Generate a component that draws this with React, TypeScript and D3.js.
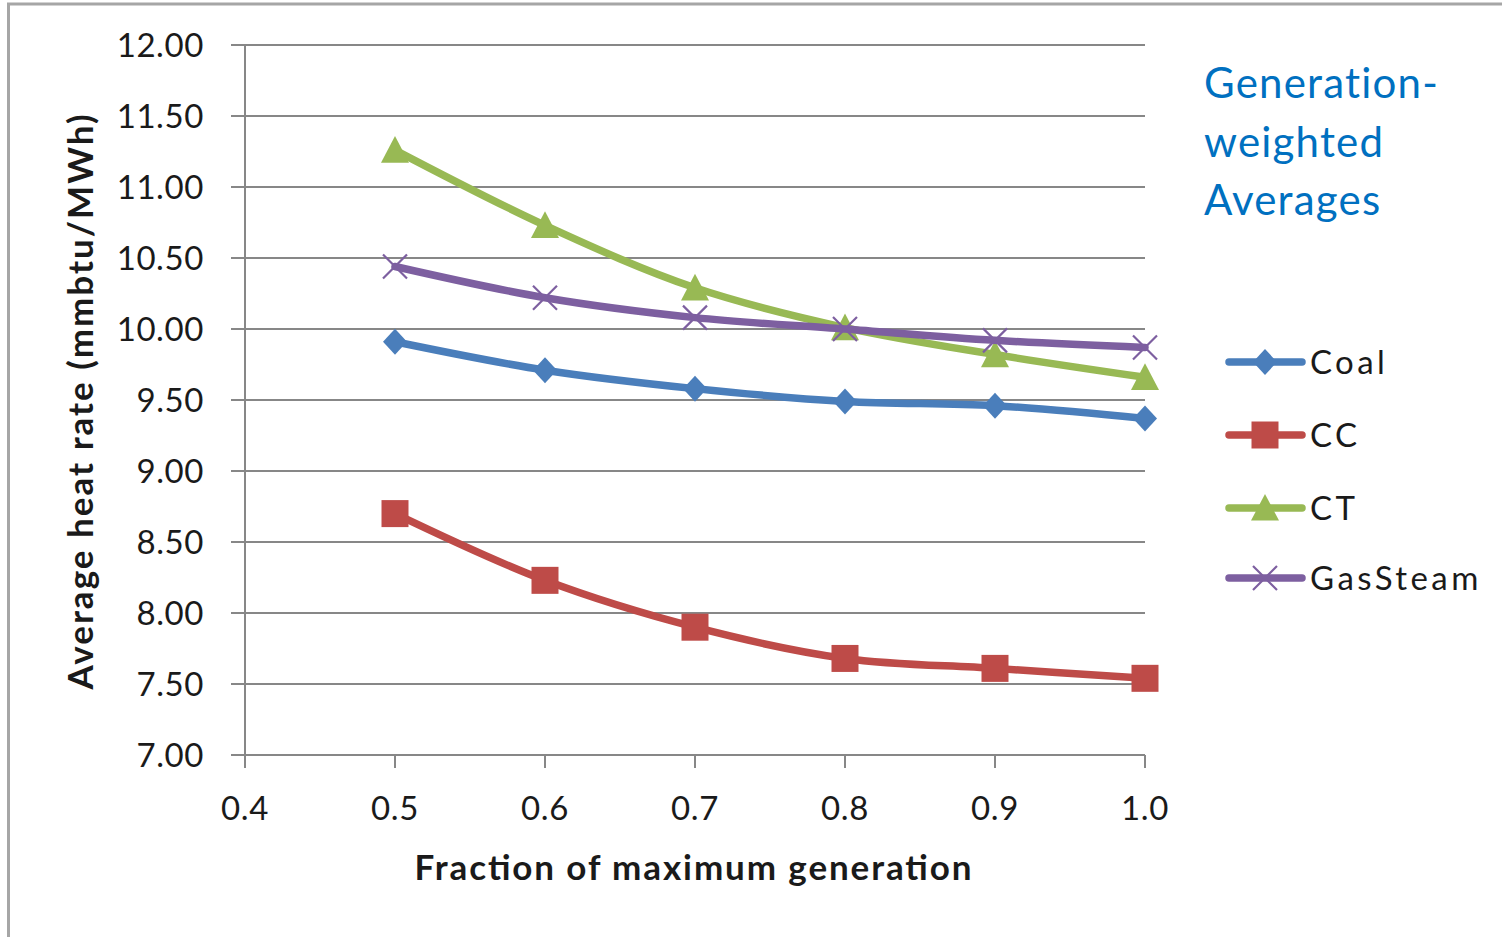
import React from 'react';
import * as d3 from 'd3';

const xValues = [0.5, 0.6, 0.7, 0.8, 0.9, 1.0];
const coal = [9.91, 9.71, 9.58, 9.49, 9.46, 9.37];
const cc = [8.7, 8.23, 7.9, 7.68, 7.61, 7.54];
const ct = [11.26, 10.73, 10.29, 10.01, 9.82, 9.66];
const gasSteam = [10.44, 10.22, 10.08, 10.0, 9.92, 9.87];
const seriesNames = ['Coal', 'CC', 'CT', 'GasSteam'];
const seriesColors = ['#4A7EBB', '#BE4B48', '#98B954', '#7D5FA0'];
const seriesMarkers = ['diamond', 'square', 'triangle', 'x'];
const xTicks = [0.4, 0.5, 0.6, 0.7, 0.8, 0.9, 1.0];
const yTicks = [7, 7.5, 8, 8.5, 9, 9.5, 10, 10.5, 11, 11.5, 12];
const titleLines = ['Generation-', 'weighted', 'Averages'];
const xTitle = 'Fraction of maximum generation';
const yTitle = 'Average heat rate (mmbtu/MWh)';

const FONT = 'Lato, "Open Sans", sans-serif';

function markerPath(type: string, cx: number, cy: number): string {
  const p = d3.path();
  if (type === 'diamond') {
    const w = 12, h = 13;
    p.moveTo(cx, cy - h);
    p.lineTo(cx + w, cy);
    p.lineTo(cx, cy + h);
    p.lineTo(cx - w, cy);
    p.closePath();
  } else if (type === 'square') {
    const s = 13.5;
    p.rect(cx - s, cy - s, 2 * s, 2 * s);
  } else if (type === 'triangle') {
    const w = 14, h = 14;
    p.moveTo(cx, cy - h);
    p.lineTo(cx + w, cy + h * 0.9);
    p.lineTo(cx - w, cy + h * 0.9);
    p.closePath();
  } else {
    const s = 12;
    p.moveTo(cx - s, cy - s);
    p.lineTo(cx + s, cy + s);
    p.moveTo(cx + s, cy - s);
    p.lineTo(cx - s, cy + s);
  }
  return p.toString();
}

function Marker({ type, cx, cy, color }: { type: string; cx: number; cy: number; color: string }) {
  if (type === 'x') {
    return <path d={markerPath(type, cx, cy)} stroke={color} strokeWidth={2.2} fill="none" />;
  }
  return <path d={markerPath(type, cx, cy)} fill={color} stroke="none" />;
}

export default function App() {
  const width = 1502;
  const height = 937;
  const x = d3.scaleLinear().domain([0.4, 1.0]).range([245, 1145]);
  const y = d3.scaleLinear().domain([7, 12]).range([755, 45]);
  const series = [coal, cc, ct, gasSteam];
  const line = d3
    .line<number>()
    .x((_, i) => x(xValues[i]))
    .y((d) => y(d))
    .curve(d3.curveCatmullRom.alpha(0.5));

  const gridColor = '#878787';
  const legendY = [362, 435, 508, 578];

  return (
    <svg
      width={width}
      height={height}
      style={{ position: 'absolute', left: 0, top: 0, background: '#fff' }}
    >
      <rect x={0} y={0} width={width} height={height} fill="#fff" />
      {/* outer border */}
      <path d={`M8.5,${height + 5} L8.5,4 L${width + 5},4`} stroke="#A6A6A6" strokeWidth={3} fill="none" />

      {/* gridlines + y ticks */}
      {yTicks.map((t) => (
        <line key={'g' + t} x1={231} x2={1145} y1={y(t)} y2={y(t)} stroke={gridColor} strokeWidth={2} />
      ))}
      {/* y axis */}
      <line x1={245} x2={245} y1={y(12)} y2={768} stroke={gridColor} strokeWidth={2} />
      {/* x ticks */}
      {xTicks.map((t) => (
        <line key={'xt' + t} x1={x(t)} x2={x(t)} y1={755} y2={768} stroke={gridColor} strokeWidth={2} />
      ))}

      {/* y tick labels */}
      {yTicks.map((t) => (
        <text
          key={'yl' + t}
          x={204}
          y={y(t) + 12}
          textAnchor="end"
          fontFamily={FONT}
          fontSize={33}
          letterSpacing={0.6}
          fill="#1a1a1a"
        >
          {d3.format('.2f')(t)}
        </text>
      ))}
      {/* x tick labels */}
      {xTicks.map((t) => (
        <text
          key={'xl' + t}
          x={x(t)}
          y={820}
          textAnchor="middle"
          fontFamily={FONT}
          fontSize={33}
          letterSpacing={0.6}
          fill="#1a1a1a"
        >
          {d3.format('.1f')(t)}
        </text>
      ))}

      {/* axis titles */}
      <text
        x={693}
        y={880}
        textAnchor="middle"
        fontFamily={FONT}
        fontWeight="bold"
        fontSize={35}
        textLength={557}
        lengthAdjust="spacing"
        fill="#1a1a1a"
      >
        {xTitle}
      </text>
      <text
        transform={`translate(93,402) rotate(-90)`}
        textAnchor="middle"
        fontFamily={FONT}
        fontWeight="bold"
        fontSize={35}
        textLength={575}
        lengthAdjust="spacing"
        fill="#1a1a1a"
      >
        {yTitle}
      </text>

      {/* series */}
      {series.map((s, si) => (
        <g key={'s' + si}>
          <path d={line(s) || ''} fill="none" stroke={seriesColors[si]} strokeWidth={7.5} strokeLinecap="round" strokeLinejoin="round" />
          {s.map((v, i) => (
            <Marker key={i} type={seriesMarkers[si]} cx={x(xValues[i])} cy={y(v)} color={seriesColors[si]} />
          ))}
        </g>
      ))}

      {/* legend */}
      {seriesNames.map((n, i) => (
        <g key={'lg' + n}>
          <line x1={1229} x2={1302} y1={legendY[i]} y2={legendY[i]} stroke={seriesColors[i]} strokeWidth={7.5} strokeLinecap="round" />
          <Marker type={seriesMarkers[i]} cx={1265} cy={legendY[i]} color={seriesColors[i]} />
          <text x={1310} y={legendY[i] + 12} fontFamily={FONT} fontSize={33} letterSpacing={3.4} fill="#1a1a1a">
            {n}
          </text>
        </g>
      ))}

      {/* title */}
      {titleLines.map((l, i) => (
        <text key={'t' + i} x={1204} y={98 + i * 58.5} fontFamily={FONT} fontSize={42} letterSpacing={1.2} fill="#0070C0">
          {l}
        </text>
      ))}
    </svg>
  );
}
